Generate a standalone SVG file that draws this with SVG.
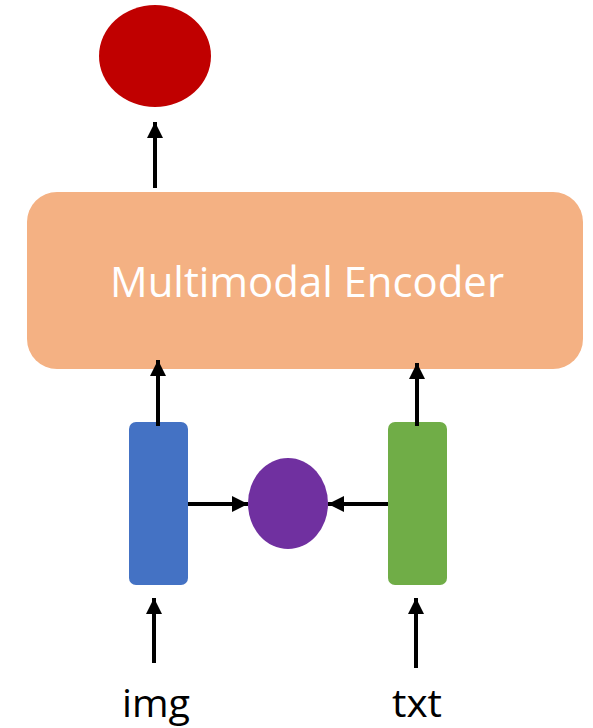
<svg xmlns="http://www.w3.org/2000/svg" width="593" height="728" viewBox="0 0 593 728">
  <style>
    .link { stroke: #000; stroke-width: 4; fill: none; marker-end: url(#head); }
    .label { font-family: "Open Sans", "Noto Sans", "DejaVu Sans", sans-serif; }
  </style>
  <defs>
    <marker id="head" markerUnits="userSpaceOnUse" markerWidth="16" markerHeight="16" viewBox="0 0 16 16" refX="16" refY="8" orient="auto">
      <path d="M0,0 L16,8 L0,16 Z" fill="#000"/>
    </marker>
  </defs>
  <rect width="593" height="728" fill="#fff"/>

  <g id="output">
    <ellipse cx="155" cy="56" rx="56" ry="51" fill="#C00000"/>
  </g>

  <g id="encoder">
    <rect x="27" y="192" width="556" height="177" rx="30" ry="30" fill="#F4B183"/>
    <text class="label" x="307" y="297" text-anchor="middle" font-size="42" fill="#fff" textLength="394" lengthAdjust="spacingAndGlyphs">Multimodal Encoder</text>
  </g>

  <g id="image-embedding">
    <rect x="129" y="422" width="59" height="163" rx="7" ry="7" fill="#4472C4"/>
  </g>

  <g id="text-embedding">
    <rect x="388" y="422" width="59" height="163" rx="7" ry="7" fill="#70AD47"/>
  </g>

  <g id="similarity">
    <ellipse cx="288" cy="503.5" rx="40" ry="45.5" fill="#7030A0"/>
  </g>

  <g id="img-label">
    <text class="label" x="156" y="717" text-anchor="middle" font-size="38" fill="#000" textLength="68" lengthAdjust="spacingAndGlyphs">img</text>
  </g>

  <g id="txt-label">
    <text class="label" x="417" y="717" text-anchor="middle" font-size="38" fill="#000" textLength="50" lengthAdjust="spacingAndGlyphs">txt</text>
  </g>

  <g id="connectors">
    <line class="link" x1="155" y1="188" x2="155" y2="122"/>
    <line class="link" x1="158" y1="426" x2="158" y2="360"/>
    <line class="link" x1="417" y1="426" x2="417" y2="363"/>
    <line class="link" x1="188" y1="504" x2="248" y2="504"/>
    <line class="link" x1="388" y1="504" x2="328" y2="504"/>
    <line class="link" x1="154" y1="663" x2="154" y2="598"/>
    <line class="link" x1="416" y1="668" x2="416" y2="598"/>
  </g>
</svg>
